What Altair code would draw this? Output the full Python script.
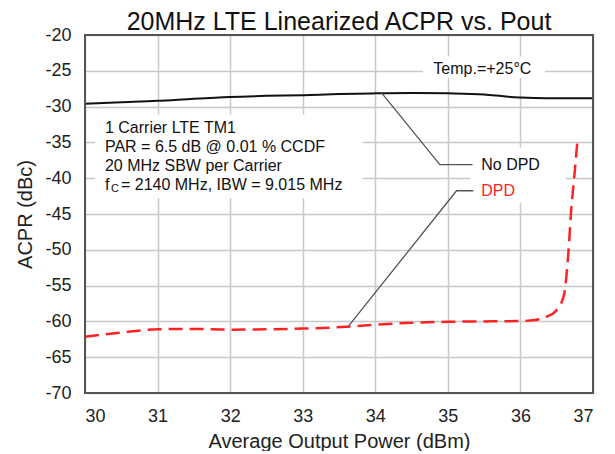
import altair as alt
import pandas as pd

FONT = "Liberation Sans, Arial, Helvetica, sans-serif"

# ---- data ----
pout_nodpd = [30, 30.5, 31, 31.5, 32, 32.5, 33, 33.5, 34, 34.5, 35, 35.5, 35.8, 36.2, 36.5, 37]
acpr_nodpd = [-29.6, -29.4, -29.2, -28.9, -28.65, -28.5, -28.4, -28.25, -28.15, -28.1,
              -28.15, -28.3, -28.6, -28.8, -28.85, -28.85]

pout_dpd = [30, 30.5, 31, 31.5, 32, 32.5, 33, 33.6, 34, 34.5, 35, 35.5, 36, 36.2, 36.35,
            36.5, 36.6, 36.66, 36.7, 36.75, 36.79]
acpr_dpd = [-62.15, -61.55, -61.1, -61.05, -61.15, -61.1, -61.0, -60.75, -60.45, -60.2,
            -60.05, -60.0, -59.95, -59.8, -59.4, -58.4, -56.3, -50.5, -44.4, -38.9, -34.2]

x_ticks = [30, 31, 32, 33, 34, 35, 36, 37]
y_ticks = [-70, -65, -60, -55, -50, -45, -40, -35, -30, -25, -20]

info_lines = ["1 Carrier LTE TM1", "PAR = 6.5 dB @ 0.01 % CCDF", "20 MHz SBW per Carrier"]
info_y = [-33.0, -35.65, -38.3]
fc_row_y = -40.95
fc_rest = " = 2140 MHz, IBW = 9.015 MHz"

# leader lines (annotation geometry in data units)
leader_id = ["nodpd", "nodpd", "nodpd", "dpd", "dpd", "dpd"]
leader_ord = [0, 1, 2, 0, 1, 2]
leader_x = [34.09, 34.89, 35.34, 33.62, 35.12, 35.35]
leader_y = [-28.12, -38.1, -38.1, -60.8, -41.75, -41.75]

# white backgrounds behind annotations
box_x = [30.14, 34.66, 35.31]
box_x2 = [33.83, 36.34, 36.63]
box_y = [-31.1, -23.0, -35.7]
box_y2 = [-42.8, -26.0, -43.5]

W, H = 508, 358
RED = "#ff2222"

xs = alt.Scale(domain=[30, 37], nice=False, zero=False)
ys = alt.Scale(domain=[-70, -20], nice=False, zero=False)

df_no = pd.DataFrame({"x": pout_nodpd, "y": acpr_nodpd})
df_dpd = pd.DataFrame({"x": pout_dpd, "y": acpr_dpd})
df_lead = pd.DataFrame({"id": leader_id, "o": leader_ord, "x": leader_x, "y": leader_y})
df_box = pd.DataFrame({"x": box_x, "x2": box_x2, "y": box_y, "y2": box_y2})
df_info = pd.DataFrame({"t": info_lines, "x": [30.275] * 3, "y": info_y})
df_fc = pd.DataFrame({"x": [30.275], "y": [fc_row_y]})

xaxis = alt.Axis(values=x_ticks, title="Average Output Power (dBm)",
                 labelExpr="'' + datum.value", titleY=54, titleBaseline="alphabetic")
yaxis = alt.Axis(values=y_ticks, title="ACPR (dBc)", labelExpr="'' + datum.value",
                 titleX=-60, titleBaseline="middle")
xenc = alt.X("x:Q", scale=xs, axis=xaxis)
yenc = alt.Y("y:Q", scale=ys, axis=yaxis)

boxes = alt.Chart(df_box).mark_rect(fill="white").encode(
    x=xenc, x2="x2:Q", y=yenc, y2="y2:Q")

leaders = alt.Chart(df_lead).mark_line(color="#555555", strokeWidth=1.3).encode(
    x=xenc, y=yenc, detail="id:N", order="o:Q")

line_no = alt.Chart(df_no).mark_line(color="#111111", strokeWidth=2,
                                     interpolate="monotone").encode(x=xenc, y=yenc)
line_dpd = alt.Chart(df_dpd).mark_line(color=RED, strokeWidth=2.5, strokeDash=[14, 7],
                                       interpolate="monotone").encode(x=xenc, y=yenc)

txt_kw = dict(font=FONT, fontSize=16, align="left", baseline="middle", color="#111111")

info = alt.Chart(df_info).mark_text(**txt_kw).encode(x=xenc, y=yenc, text="t:N")
fc_f = alt.Chart(df_fc).mark_text(**txt_kw).encode(x=xenc, y=yenc, text=alt.value("f"))
fc_c = alt.Chart(df_fc).mark_text(font=FONT, fontSize=11, align="left", baseline="middle",
                                  color="#111111", dx=6, dy=4).encode(
    x=xenc, y=yenc, text=alt.value("C"))
fc_r = alt.Chart(df_fc).mark_text(**txt_kw, dx=16).encode(
    x=xenc, y=yenc, text=alt.value(fc_rest))

temp = alt.Chart(pd.DataFrame({"x": [34.8], "y": [-24.7]})).mark_text(**txt_kw).encode(
    x=xenc, y=yenc, text=alt.value("Temp.=+25°C"))

lab_no = alt.Chart(pd.DataFrame({"x": [35.46], "y": [-38.1]})).mark_text(**txt_kw).encode(
    x=xenc, y=yenc, text=alt.value("No DPD"))
lab_dpd = alt.Chart(pd.DataFrame({"x": [35.46], "y": [-41.75]})).mark_text(
    font=FONT, fontSize=16, align="left", baseline="middle", color=RED).encode(
    x=xenc, y=yenc, text=alt.value("DPD"))

frame = alt.Chart(pd.DataFrame({"a": [0]})).mark_rect(
    fill=None, stroke="#555555", strokeWidth=2).encode(
    x=alt.value(0), x2=alt.value(W), y=alt.value(0), y2=alt.value(H))

chart = alt.layer(
    line_no, boxes, leaders, line_dpd, info, fc_f, fc_c, fc_r, temp, lab_no, lab_dpd, frame
).properties(
    width=W, height=H,
    padding={"left": 77, "top": 27, "right": 10, "bottom": 58},
    autosize=alt.AutoSizeParams(type="none"),
    title=alt.TitleParams("20MHz LTE Linearized ACPR vs. Pout", font=FONT, fontSize=25,
                          fontWeight="normal", color="#111111", anchor="middle", offset=-9),
).configure_view(
    stroke=None
).configure_axis(
    grid=True, gridColor="#c8c8c8", gridWidth=1.5, domain=False, ticks=False,
    labelFont=FONT, labelFontSize=18, labelColor="#222222", labelPadding=14,
    titleFont=FONT, titleFontSize=20, titleFontWeight="normal", titleColor="#222222",
)

chart.save("out.html", embed_options={"renderer": "svg", "actions": False})
